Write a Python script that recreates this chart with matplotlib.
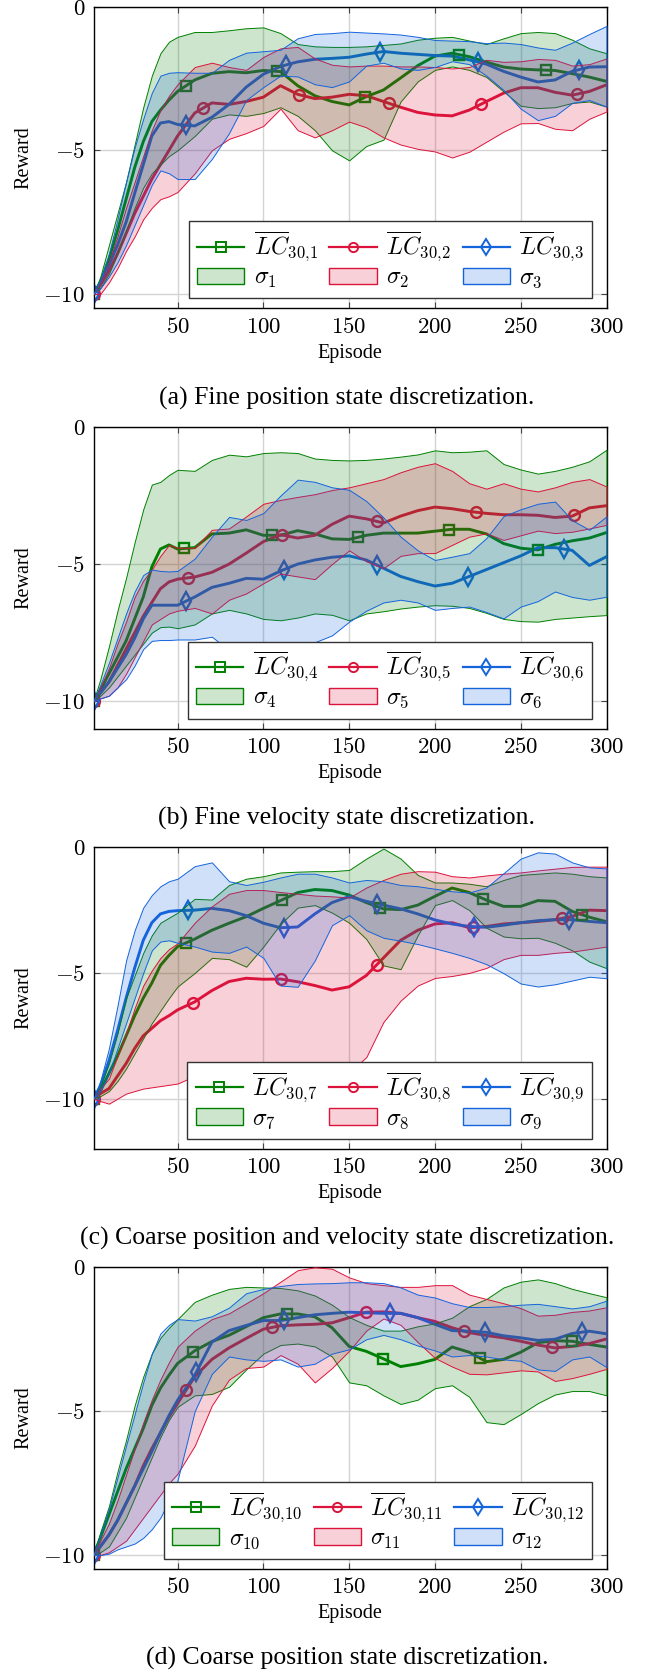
import numpy as np
import matplotlib
matplotlib.use('Agg')
import matplotlib.pyplot as plt
from matplotlib.lines import Line2D
from matplotlib.patches import Patch
from matplotlib.colors import to_rgba

plt.rcParams['font.family'] = ['Liberation Serif', 'DejaVu Serif']
plt.rcParams['mathtext.fontset'] = 'cm'

episodes = [1, 5, 10, 15, 20, 25, 30, 35, 40, 45, 50, 60, 70, 80, 90, 100, 110, 120, 130, 140,
            150, 160, 170, 180, 190, 200, 210, 220, 230, 240, 250, 260, 270, 280, 290, 300]

# ---------------- panel (a) ----------------
a_mean1 = [-10, -9.6, -8.8, -7.8, -6.7, -5.6, -4.7, -4.0, -3.6, -3.25, -2.95, -2.55, -2.32, -2.26, -2.3, -2.22, -2.26, -2.75, -3.1, -3.3, -3.42, -3.13, -2.9, -2.48, -2.05, -1.72, -1.62, -1.74, -1.93, -2.1, -2.17, -2.2, -2.22, -2.33, -2.45, -2.6]
a_hi1 = [-10, -9.4, -8.3, -7.2, -6.1, -4.8, -3.5, -2.4, -1.62, -1.22, -1.05, -0.88, -0.88, -0.82, -0.75, -0.72, -0.92, -1.3, -1.38, -1.4, -1.4, -1.38, -1.33, -1.28, -1.15, -1.08, -1.05, -1.18, -1.3, -1.1, -0.92, -0.88, -0.92, -1.15, -1.45, -1.62]
a_lo1 = [-10, -9.8, -9.3, -8.6, -7.8, -7.0, -6.3, -5.8, -5.5, -5.2, -5.0, -4.5, -3.9, -3.75, -3.8, -3.7, -3.5, -3.8, -4.3, -5.0, -5.35, -4.85, -4.63, -3.3, -2.6, -2.2, -2.08, -2.2, -2.45, -2.95, -3.45, -3.53, -3.5, -3.35, -3.3, -3.48]
a_mean2 = [-10, -9.7, -9.2, -8.6, -7.9, -7.2, -6.6, -6.0, -5.5, -5.0, -4.5, -3.7, -3.35, -3.4, -3.3, -3.15, -2.75, -3.05, -3.2, -3.15, -3.05, -3.1, -3.3, -3.5, -3.68, -3.77, -3.8, -3.6, -3.3, -3.01, -2.82, -2.82, -2.98, -3.08, -2.95, -2.72]
a_hi2 = [-10, -9.6, -8.9, -8.0, -7.0, -6.1, -5.2, -4.3, -3.6, -3.1, -2.7, -2.1, -1.95, -2.1, -2.2, -1.75, -1.45, -1.4, -1.8, -2.02, -2.08, -2.05, -2.05, -2.08, -2.08, -2.1, -2.15, -2.1, -1.85, -1.92, -1.9, -1.82, -1.85, -2.05, -2.0, -1.8]
a_lo2 = [-10, -10.0, -9.6, -9.1, -8.5, -8.0, -7.4, -7.0, -6.7, -6.6, -6.45, -5.8, -5.0, -4.6, -4.4, -4.15, -3.55, -4.3, -4.55, -4.3, -4.0, -4.2, -4.55, -4.8, -4.95, -5.04, -5.25, -5.05, -4.7, -4.35, -4.06, -4.05, -4.25, -4.3, -3.9, -3.65]
a_mean3 = [-10, -9.6, -9.0, -8.3, -7.5, -6.5, -5.5, -4.5, -4.05, -4.0, -4.1, -4.15, -3.85, -3.4, -2.8, -2.35, -2.08, -1.92, -1.83, -1.8, -1.76, -1.65, -1.56, -1.62, -1.66, -1.7, -1.72, -1.85, -2.0, -2.25, -2.45, -2.62, -2.55, -2.25, -2.1, -2.09]
a_hi3 = [-10, -9.5, -8.6, -7.4, -6.1, -4.9, -3.9, -3.0, -2.4, -2.3, -2.28, -2.3, -2.3, -1.85, -1.6, -1.55, -1.5, -1.1, -0.95, -0.92, -0.87, -0.9, -0.93, -0.97, -1.05, -1.16, -1.18, -1.2, -1.27, -1.25, -1.3, -1.42, -1.5, -1.25, -0.95, -0.67]
a_lo3 = [-10, -9.8, -9.4, -8.9, -8.3, -7.6, -6.9, -6.2, -5.7, -5.8, -6.0, -6.0, -5.3, -4.4, -3.25, -2.8, -2.4, -2.43, -2.7, -2.8, -2.6, -2.05, -1.95, -2.15, -2.2, -2.1, -1.9, -2.0, -2.4, -2.9, -3.55, -3.95, -3.8, -3.35, -3.25, -3.48]
a_marks1 = [1, 55, 108, 159, 214, 265]
a_marks2 = [1, 65, 121, 173, 227, 283]
a_marks3 = [1, 55, 113, 168, 225, 284]

# ---------------- panel (b) ----------------
b_mean1 = [-10, -9.6, -9.0, -8.4, -7.8, -7.0, -6.2, -5.1, -4.45, -4.3, -4.45, -4.4, -3.9, -3.87, -3.75, -3.95, -3.95, -3.78, -3.9, -4.08, -4.1, -3.95, -3.87, -3.87, -3.87, -3.8, -3.73, -3.73, -3.9, -4.25, -4.42, -4.48, -4.28, -4.15, -4.05, -3.85]
b_hi1 = [-10, -9.2, -8.0, -6.7, -5.5, -4.2, -3.0, -2.1, -2.0, -1.75, -1.56, -1.6, -1.2, -1.01, -1.07, -0.95, -0.92, -0.95, -1.15, -1.2, -1.22, -1.2, -1.15, -1.08, -1.0, -0.85, -0.92, -0.9, -0.85, -1.35, -1.55, -1.7, -1.6, -1.45, -1.25, -0.83]
b_lo1 = [-10, -9.8, -9.5, -9.1, -8.7, -8.3, -7.9, -7.5, -7.3, -7.28, -7.34, -7.2, -6.8, -6.67, -6.8, -7.0, -7.05, -6.95, -6.8, -6.85, -7.05, -6.8, -6.72, -6.62, -6.55, -6.5, -6.52, -6.6, -6.78, -7.0, -7.08, -7.1, -7.0, -6.95, -6.9, -6.86]
b_mean2 = [-10, -9.7, -9.3, -8.7, -8.1, -7.5, -6.9, -6.4, -5.9, -5.65, -5.55, -5.47, -5.3, -5.0, -4.6, -4.18, -3.93, -4.05, -3.95, -3.55, -3.25, -3.35, -3.5, -3.25, -3.05, -2.92, -2.98, -3.08, -3.15, -3.2, -3.2, -3.22, -3.3, -3.25, -2.95, -2.87]
b_hi2 = [-10, -9.5, -8.8, -7.9, -7.1, -6.2, -5.6, -5.2, -4.7, -4.3, -4.4, -4.4, -3.75, -3.7, -3.26, -2.8, -2.66, -2.55, -2.45, -2.3, -2.2, -2.05, -1.9, -1.65, -1.45, -1.32, -1.6, -2.05, -2.25, -2.05, -2.25, -2.35, -2.2, -2.0, -1.9, -2.17]
b_lo2 = [-10, -9.9, -9.8, -9.5, -9.0, -8.4, -7.8, -7.2, -7.0, -6.8, -6.7, -6.6, -6.8, -6.3, -6.07, -5.7, -5.35, -5.45, -5.55, -5.0, -4.5, -4.9, -5.15, -4.7, -4.6, -4.6, -4.3, -4.0, -3.88, -4.12, -3.95, -3.78, -3.87, -3.82, -3.7, -3.57]
b_mean3 = [-10, -9.7, -9.3, -8.8, -8.3, -7.7, -7.0, -6.5, -6.5, -6.5, -6.5, -6.2, -5.85, -5.7, -5.52, -5.55, -5.25, -5.0, -4.85, -4.75, -4.7, -4.85, -5.15, -5.45, -5.64, -5.8, -5.7, -5.45, -5.2, -4.95, -4.7, -4.4, -4.4, -4.5, -5.05, -4.73]
b_hi3 = [-10, -9.4, -8.6, -7.7, -6.8, -6.0, -5.4, -5.2, -5.25, -5.27, -5.25, -4.8, -4.0, -3.28, -3.39, -3.14, -2.5, -1.92, -2.0, -2.2, -2.29, -2.7, -3.3, -4.0, -4.5, -4.85, -4.73, -4.6, -4.05, -3.25, -3.0, -2.8, -2.72, -3.4, -3.75, -3.26]
b_lo3 = [-10, -9.9, -9.8, -9.5, -9.2, -8.7, -8.1, -7.8, -7.77, -7.77, -7.75, -7.75, -7.65, -8.14, -8.0, -7.85, -7.95, -7.9, -7.85, -7.6, -7.1, -6.7, -6.4, -6.3, -6.4, -6.67, -6.6, -6.55, -6.75, -6.98, -6.55, -6.35, -6.0, -6.2, -6.3, -6.19]
b_marks1 = [1, 54, 105, 155, 208, 260]
b_marks2 = [1, 56, 111, 166, 224, 281]
b_marks3 = [1, 55, 112, 166, 219, 275]

# ---------------- panel (c) ----------------
c_mean1 = [-10, -9.7, -9.0, -8.3, -7.5, -6.7, -6.0, -5.4, -4.7, -4.3, -3.95, -3.65, -3.3, -3.02, -2.76, -2.43, -2.12, -1.8, -1.68, -1.72, -1.9, -2.2, -2.45, -2.48, -2.3, -1.95, -1.62, -1.8, -2.1, -2.35, -2.35, -2.12, -2.15, -2.55, -2.78, -2.96]
c_hi1 = [-10, -9.5, -8.6, -7.4, -6.0, -5.1, -4.2, -3.5, -3.0, -2.8, -2.6, -2.05, -2.08, -1.5, -1.25, -1.15, -1.0, -0.97, -0.95, -0.95, -0.9, -0.45, -0.05, -0.45, -1.1, -1.4, -1.4, -1.45, -1.55, -1.3, -1.1, -1.05, -1.0, -1.05, -1.15, -1.2]
c_lo1 = [-10, -9.9, -9.7, -9.3, -8.8, -8.2, -7.6, -7.0, -6.5, -6.0, -5.54, -5.0, -4.4, -4.45, -4.75, -3.95, -3.05, -2.4, -2.3, -2.6, -3.0, -3.65, -4.7, -4.85, -3.5, -2.3, -2.1, -2.5, -3.2, -3.55, -3.62, -3.6, -3.8, -4.1, -4.55, -4.81]
c_mean2 = [-10, -9.8, -9.6, -9.1, -8.6, -8.0, -7.5, -7.2, -6.9, -6.7, -6.47, -6.15, -5.7, -5.34, -5.21, -5.25, -5.24, -5.35, -5.5, -5.68, -5.55, -5.1, -4.4, -3.7, -3.3, -3.05, -3.0, -3.2, -3.15, -3.05, -3.0, -2.95, -2.88, -2.75, -2.5, -2.52]
c_hi2 = [-10, -9.6, -9.2, -8.3, -7.4, -6.4, -5.5, -4.9, -4.4, -4.05, -3.82, -3.0, -2.35, -1.85, -1.7, -1.7, -1.78, -1.85, -1.92, -1.95, -2.0, -1.6, -1.3, -1.05, -0.95, -0.97, -1.15, -1.2, -1.12, -1.05, -1.0, -0.92, -0.85, -0.78, -0.77, -0.77]
c_lo2 = [-10, -10.1, -10.2, -10.0, -9.8, -9.7, -9.6, -9.55, -9.5, -9.45, -9.4, -9.1, -8.8, -8.6, -8.7, -8.86, -8.9, -8.9, -8.95, -9.0, -8.95, -8.35, -6.95, -6.1, -5.5, -5.2, -5.12, -5.0, -4.8, -4.45, -4.28, -4.28, -4.2, -4.15, -4.05, -3.95]
c_mean3 = [-10, -9.5, -8.5, -7.3, -6.0, -4.8, -3.7, -3.0, -2.65, -2.55, -2.52, -2.5, -2.43, -2.52, -2.72, -3.02, -3.2, -3.17, -2.65, -2.2, -1.96, -2.15, -2.3, -2.45, -2.65, -2.89, -3.05, -3.15, -3.18, -3.1, -3.0, -2.92, -2.88, -2.88, -2.95, -3.0]
c_hi3 = [-10, -9.3, -8.0, -6.3, -4.5, -3.3, -2.4, -1.9, -1.55, -1.35, -1.25, -0.75, -0.6, -1.35, -1.5, -1.37, -1.2, -1.05, -1.05, -1.2, -1.4, -1.3, -1.35, -1.5, -1.55, -1.65, -1.75, -1.8, -1.6, -1.03, -0.45, -0.2, -0.25, -0.6, -0.8, -0.84]
c_lo3 = [-10, -9.7, -9.0, -8.0, -7.0, -6.0, -5.0, -4.1, -3.75, -3.7, -3.8, -3.95, -4.15, -4.2, -3.95, -4.4, -5.5, -5.55, -4.5, -3.1, -2.7, -3.3, -3.6, -3.72, -3.85, -4.02, -4.2, -4.4, -4.65, -5.01, -5.42, -5.54, -5.45, -5.3, -5.15, -5.21]
c_marks1 = [1, 55, 111, 168, 228, 286]
c_marks2 = [1, 59, 110, 166, 222, 274]
c_marks3 = [1, 56, 112, 166, 223, 278]

# ---------------- panel (d) ----------------
d_mean1 = [-10, -9.4, -8.6, -7.8, -7.0, -6.3, -5.6, -4.8, -4.2, -3.75, -3.34, -2.9, -2.58, -2.36, -2.06, -1.75, -1.62, -1.62, -1.72, -2.1, -2.75, -2.92, -3.18, -3.45, -3.35, -3.2, -2.77, -2.95, -3.28, -3.2, -2.95, -2.62, -2.55, -2.57, -2.68, -2.77]
d_hi1 = [-10, -9.2, -8.3, -7.1, -6.0, -4.8, -3.8, -3.0, -2.45, -2.1, -1.8, -1.2, -0.95, -0.75, -0.68, -0.7, -0.72, -0.8, -0.98, -1.3, -1.73, -2.0, -2.2, -2.2, -2.05, -1.95, -1.75, -1.35, -1.1, -0.7, -0.5, -0.42, -0.55, -0.75, -0.9, -1.04]
d_lo1 = [-10, -9.9, -9.7, -9.2, -8.7, -8.0, -7.3, -6.6, -5.9, -5.3, -4.85, -4.45, -4.4, -4.15, -3.55, -3.0, -2.7, -2.65, -2.75, -3.1, -4.0, -4.1, -4.45, -4.75, -4.6, -4.2, -4.1, -4.5, -5.38, -5.45, -5.1, -4.72, -4.42, -4.3, -4.3, -4.45]
d_mean2 = [-10, -9.7, -9.3, -8.8, -8.2, -7.6, -6.9, -6.3, -5.75, -5.2, -4.73, -3.8, -3.2, -2.8, -2.47, -2.15, -2.03, -2.0, -1.98, -1.93, -1.75, -1.56, -1.55, -1.6, -1.75, -1.88, -2.1, -2.27, -2.37, -2.45, -2.57, -2.7, -2.8, -2.75, -2.65, -2.49]
d_hi2 = [-10, -9.5, -8.9, -8.1, -7.2, -6.3, -5.4, -4.6, -3.9, -3.3, -2.76, -2.2, -1.8, -1.6, -1.25, -0.9, -0.5, -0.1, 0.0, -0.05, -0.35, -0.55, -0.62, -0.68, -0.68, -0.62, -0.62, -0.95, -1.1, -1.25, -1.42, -1.68, -1.65, -1.55, -1.5, -1.39]
d_lo2 = [-10, -10.0, -9.9, -9.7, -9.5, -9.1, -8.7, -8.3, -7.9, -7.5, -7.17, -6.2, -4.8, -3.9, -3.5, -3.45, -3.05, -3.35, -4.0, -3.5, -2.9, -2.2, -1.78, -2.0, -2.6, -3.15, -3.45, -3.7, -3.72, -3.65, -3.58, -3.62, -3.95, -3.85, -3.7, -3.53]
d_mean3 = [-10, -9.7, -9.3, -8.8, -8.2, -7.6, -7.0, -6.4, -5.75, -5.15, -4.62, -3.75, -2.6, -2.2, -2.02, -1.85, -1.85, -1.75, -1.65, -1.6, -1.56, -1.58, -1.6, -1.6, -1.75, -1.98, -2.2, -2.22, -2.26, -2.38, -2.45, -2.54, -2.5, -2.3, -2.22, -2.31]
d_hi3 = [-10, -9.3, -8.4, -7.3, -6.2, -5.1, -4.0, -3.0, -2.3, -2.0, -1.8, -1.85, -1.7, -1.4, -0.9, -0.75, -0.65, -0.58, -0.56, -0.55, -0.52, -0.52, -0.55, -0.7, -0.95, -1.05, -1.25, -1.38, -1.38, -1.35, -1.3, -1.27, -1.35, -1.43, -1.35, -1.16]
d_lo3 = [-10, -10.0, -9.95, -9.8, -9.7, -9.6, -9.4, -9.1, -8.7, -8.1, -7.4, -5.0, -3.7, -3.1, -3.2, -3.25, -3.2, -3.45, -3.35, -3.0, -2.85, -2.5, -2.35, -2.5, -2.72, -2.89, -3.1, -3.05, -3.1, -3.2, -3.25, -3.55, -3.6, -3.2, -3.1, -3.47]
d_marks1 = [1, 59, 114, 170, 226, 280]
d_marks2 = [1, 55, 105, 160, 217, 268]
d_marks3 = [1, 61, 112, 174, 229, 286]

x_ticks = [50, 100, 150, 200, 250, 300]
y_ticks = [-10, -5, 0]
y_mins = [-10.5, -11.0, -12.0, -10.48]
series_idx = [[1, 2, 3], [4, 5, 6], [7, 8, 9], [10, 11, 12]]
captions = ['(a) Fine position state discretization.',
            '(b) Fine velocity state discretization.',
            '(c) Coarse position and velocity state discretization.',
            '(d) Coarse position state discretization.']

panels = [
    [(a_mean1, a_lo1, a_hi1, a_marks1), (a_mean2, a_lo2, a_hi2, a_marks2), (a_mean3, a_lo3, a_hi3, a_marks3)],
    [(b_mean1, b_lo1, b_hi1, b_marks1), (b_mean2, b_lo2, b_hi2, b_marks2), (b_mean3, b_lo3, b_hi3, b_marks3)],
    [(c_mean1, c_lo1, c_hi1, c_marks1), (c_mean2, c_lo2, c_hi2, c_marks2), (c_mean3, c_lo3, c_hi3, c_marks3)],
    [(d_mean1, d_lo1, d_hi1, d_marks1), (d_mean2, d_lo2, d_hi2, d_marks2), (d_mean3, d_lo3, d_hi3, d_marks3)],
]

COLORS = ['#008000', '#DC143C', '#1464DC']
MARKERS = ['s', 'o', 'd']
MSIZES = [7.8, 7.8, 9.2]

W, H = 649, 1671
fig = plt.figure(figsize=(W / 100, H / 100), dpi=100)

ax_left, ax_w, ax_h = 93.5, 513.0, 301.6
tops = [6.7, 427.0, 847.3, 1267.3]

for k in range(4):
    top = tops[k]
    ax = fig.add_axes([ax_left / W, 1 - (top + ax_h) / H, ax_w / W, ax_h / H])
    ep = np.array(episodes)
    handles = []
    labels = []
    for j, (mean, lo, hi, marks) in enumerate(panels[k]):
        c = COLORS[j]
        ax.plot(ep, mean, color=c, lw=2.1, zorder=2, solid_joinstyle='round')
        mx = np.array(marks)
        my = np.interp(mx, ep, mean)
        ax.plot(mx, my, linestyle='none', marker=MARKERS[j], ms=MSIZES[j],
                mfc='none', mec=c, mew=1.7, zorder=2.1)
    for j, (mean, lo, hi, marks) in enumerate(panels[k]):
        c = COLORS[j]
        ax.fill_between(ep, lo, hi, facecolor=to_rgba(c, 0.2), edgecolor=c,
                        linewidth=0.7, zorder=3)
    for j in range(3):
        c = COLORS[j]
        n = series_idx[k][j]
        handles.append(Line2D([], [], color=c, lw=1.6, marker=MARKERS[j],
                              ms=MSIZES[j] * 0.85, mfc='none', mec=c, mew=1.4))
        labels.append(r'$\overline{LC}_{30{,}%d}$' % n)
        handles.append(Patch(facecolor=to_rgba(c, 0.2), edgecolor=c, linewidth=1.0))
        labels.append(r'$\sigma_{%d}$' % n)

    ax.set_xlim(1, 300)
    ax.set_ylim(y_mins[k], 0)
    ax.set_xticks(x_ticks)
    ax.set_yticks(y_ticks)
    ax.set_xticklabels(['$%d$' % t for t in x_ticks], fontsize=16.5)
    ax.set_yticklabels(['$%d$' % t for t in y_ticks], fontsize=16.5)
    ax.grid(True, color='#d4d4d4', lw=1.0)
    ax.set_axisbelow(True)
    ax.tick_params(direction='in', length=4, width=0.8, color='#444444',
                   top=True, right=True, pad=6)
    for s in ax.spines.values():
        s.set_linewidth(1.0)
        s.set_color('black')

    leg = ax.legend(handles, labels, ncol=3, loc='lower right',
                    bbox_to_anchor=(0.972, 0.033), borderaxespad=0,
                    frameon=True, fancybox=False, edgecolor='#333333', framealpha=1,
                    handlelength=2.0, handletextpad=0.4, columnspacing=0.5,
                    borderpad=0.35, labelspacing=0.15, fontsize=17)
    leg.get_frame().set_linewidth(1.0)
    leg.set_zorder(10)

    bottom = top + ax_h
    fig.text(24 / W, 1 - (top + ax_h / 2) / H, 'Reward', rotation=90,
             ha='center', va='center', fontsize=14.5)
    fig.text(350 / W, 1 - (bottom + 45) / H, 'Episode', ha='center', va='center', fontsize=14.5)
    fig.text(347 / W, 1 - (bottom + 90) / H, captions[k], ha='center', va='center', fontsize=18.5)

fig.savefig('out.png', dpi=100)
